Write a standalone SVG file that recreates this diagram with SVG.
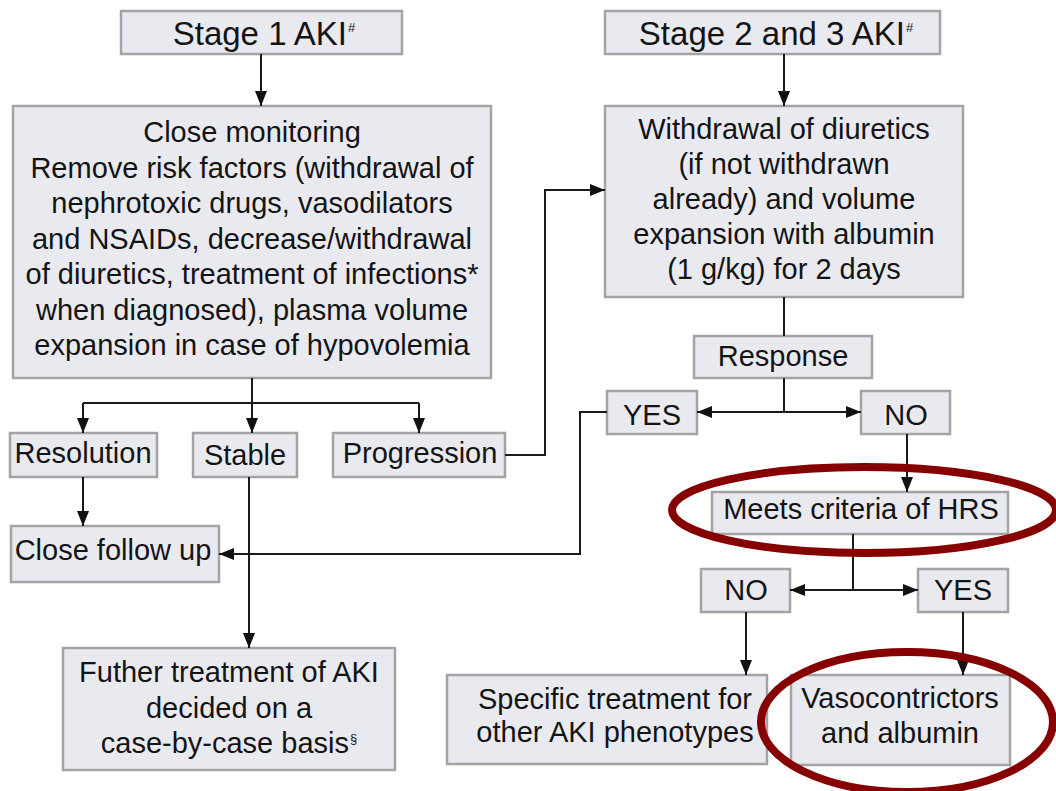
<svg xmlns="http://www.w3.org/2000/svg" width="1056" height="791" viewBox="0 0 1056 791">
<style>
.box{fill:#E9EAF0;stroke:#A3A3A3;stroke-width:2.5}
.t{font-family:"Liberation Sans",Arial,sans-serif;font-size:29px;fill:#141414;text-anchor:middle}
.h{font-size:33px}
.sup{font-size:13px}
.c{fill:none;stroke:#1a1a1a;stroke-width:2}
.ring{fill:none;stroke:#860000;stroke-width:8}
</style>
<defs>
<marker id="arr" markerUnits="userSpaceOnUse" markerWidth="16" markerHeight="12" refX="15" refY="6" orient="auto">
<path d="M0,0 L15,6 L0,12 z" fill="#111"/>
</marker>
</defs>
<rect width="1056" height="791" fill="#fff"/>

<g id="stage1">
<rect class="box" x="121" y="11" width="281" height="43"/>
<text class="t h" x="264" y="45">Stage 1 AKI<tspan class="sup" dx="1" dy="-13">#</tspan></text>
</g>
<g id="stage23">
<rect class="box" x="605" y="11" width="335" height="43"/>
<text class="t h" x="776" y="45">Stage 2 and 3 AKI<tspan class="sup" dx="1" dy="-13">#</tspan></text>
</g>
<g id="monitoring">
<rect class="box" x="13" y="106" width="478" height="272"/>
<text class="t" x="252" y="142">Close monitoring</text>
<text class="t" x="252" y="177.5">Remove risk factors (withdrawal of</text>
<text class="t" x="252" y="213">nephrotoxic drugs, vasodilators</text>
<text class="t" x="252" y="248.5">and NSAIDs, decrease/withdrawal</text>
<text class="t" x="252" y="284">of diuretics, treatment of infections*</text>
<text class="t" x="252" y="319.5">when diagnosed), plasma volume</text>
<text class="t" x="252" y="355">expansion in case of hypovolemia</text>
</g>
<g id="withdrawal">
<rect class="box" x="605" y="106" width="358" height="191"/>
<text class="t" x="784" y="139">Withdrawal of diuretics</text>
<text class="t" x="784" y="174">(if not withdrawn</text>
<text class="t" x="784" y="209">already) and volume</text>
<text class="t" x="784" y="244">expansion with albumin</text>
<text class="t" x="784" y="279">(1 g/kg) for 2 days</text>
</g>
<g id="response">
<rect class="box" x="694" y="336" width="178" height="42"/>
<text class="t" x="783" y="366">Response</text>
</g>
<g id="yes1">
<rect class="box" x="607" y="391" width="90" height="43"/>
<text class="t" x="652" y="425">YES</text>
</g>
<g id="no1">
<rect class="box" x="861" y="391" width="89" height="43"/>
<text class="t" x="906" y="425">NO</text>
</g>
<g id="resolution">
<rect class="box" x="10" y="433" width="147" height="44"/>
<text class="t" x="83" y="463">Resolution</text>
</g>
<g id="stable">
<rect class="box" x="193" y="433" width="104" height="44"/>
<text class="t" x="245" y="465">Stable</text>
</g>
<g id="progression">
<rect class="box" x="333" y="433" width="172" height="44"/>
<text class="t" x="420" y="463">Progression</text>
</g>
<g id="hrs">
<rect class="box" x="712" y="492" width="296" height="42"/>
<text class="t" x="861" y="519">Meets criteria of HRS</text>
</g>
<g id="followup">
<rect class="box" x="11" y="526" width="208" height="56"/>
<text class="t" x="113" y="560">Close follow up</text>
</g>
<g id="no2">
<rect class="box" x="701" y="569" width="89" height="43"/>
<text class="t" x="746" y="600">NO</text>
</g>
<g id="yes2">
<rect class="box" x="918" y="569" width="90" height="43"/>
<text class="t" x="963" y="600">YES</text>
</g>
<g id="further">
<rect class="box" x="63" y="648" width="332" height="122"/>
<text class="t" x="229" y="682">Futher treatment of AKI</text>
<text class="t" x="229" y="718">decided on a</text>
<text class="t" x="229" y="753">case-by-case basis<tspan class="sup" dx="1" dy="-10">§</tspan></text>
</g>
<g id="specific">
<rect class="box" x="447" y="675" width="320" height="89"/>
<text class="t" x="615" y="709">Specific treatment for</text>
<text class="t" x="615" y="742">other AKI phenotypes</text>
</g>
<g id="vaso">
<rect class="box" x="791" y="675" width="219" height="90"/>
<text class="t" x="900" y="708">Vasocontrictors</text>
<text class="t" x="900" y="743">and albumin</text>
</g>

<g id="connectors">
<path class="c" d="M261,54 V106" marker-end="url(#arr)"/>
<path class="c" d="M784,54 V106" marker-end="url(#arr)"/>
<path class="c" d="M252,378 V433" marker-end="url(#arr)"/>
<path class="c" d="M83,403 H419"/>
<path class="c" d="M83,403 V433" marker-end="url(#arr)"/>
<path class="c" d="M419,403 V433" marker-end="url(#arr)"/>
<path class="c" d="M83,477 V526" marker-end="url(#arr)"/>
<path class="c" d="M249,477 V648" marker-end="url(#arr)"/>
<path class="c" d="M505,455 H545 V190 H605" marker-end="url(#arr)"/>
<path class="c" d="M784,297 V336"/>
<path class="c" d="M784,378 V412"/>
<path class="c" d="M784,412 H697" marker-end="url(#arr)"/>
<path class="c" d="M784,412 H861" marker-end="url(#arr)"/>
<path class="c" d="M607,412 H580 V554 H219" marker-end="url(#arr)"/>
<path class="c" d="M907,434 V492" marker-end="url(#arr)"/>
<path class="c" d="M853,534 V590"/>
<path class="c" d="M853,590 H790" marker-end="url(#arr)"/>
<path class="c" d="M853,590 H918" marker-end="url(#arr)"/>
<path class="c" d="M746,612 V675" marker-end="url(#arr)"/>
<path class="c" d="M963,612 V675" marker-end="url(#arr)"/>
</g>

<g id="highlights">
<ellipse class="ring" cx="864" cy="510" rx="192" ry="43"/>
<ellipse class="ring" cx="907" cy="722" rx="146" ry="70"/>
</g>
</svg>
